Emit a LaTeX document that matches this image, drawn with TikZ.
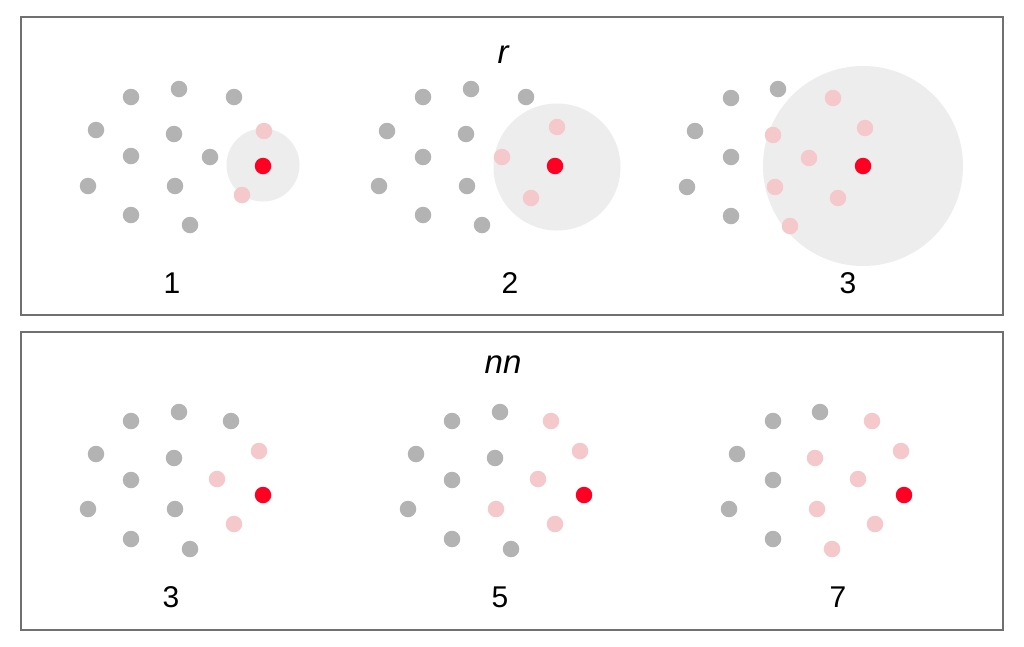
\documentclass[tikz,border=0pt]{standalone}
\usepackage{fontspec}
\setmainfont{Liberation Sans}
\definecolor{dotgray}{HTML}{B3B3B3}
\definecolor{dotpink}{HTML}{F5C8CB}
\definecolor{dotred}{HTML}{FF0022}
\definecolor{zonegray}{HTML}{EDEDED}
\definecolor{framegray}{HTML}{707070}
\begin{document}
\begin{tikzpicture}[x=1pt,y=-1pt,
  gdot/.style={circle,fill=dotgray,draw=none,inner sep=0pt,minimum size=16.5pt},
  pdot/.style={circle,fill=dotpink,draw=none,inner sep=0pt,minimum size=16.5pt},
  rdot/.style={circle,fill=dotred,draw=none,inner sep=0pt,minimum size=16.5pt},
  zone/.style={circle,fill=zonegray,draw=none,inner sep=0pt},
  panel/.style={draw=framegray,line width=1.5pt},
  title/.style={anchor=base,inner sep=0pt,font=\fontsize{33}{39}\selectfont\itshape},
  num/.style={anchor=base,inner sep=0pt,font=\fontsize{30}{36}\selectfont}]
\useasboundingbox (0,0) rectangle (1024,646);
\fill[white] (0,0) rectangle (1024,646);
% frames
\draw[panel] (21,17) rectangle (1003,315);
\draw[panel] (21,332) rectangle (1003,630);
% titles
\node[title] (tr) at (503,63) {r};
\node[title] (tnn) at (503,373) {nn};
% ---------- top panel ----------
\node[zone,minimum size=73pt] (z1) at (263,165) {};
\node[zone,minimum size=127pt] (z2) at (557,167) {};
\node[zone,minimum size=200pt] (z3) at (863,166) {};
% panel top 1
\foreach \x/\y [count=\i] in {131/97,179/89,234/97,96/130,174/134,131/156,210/157,88/186,175/186,131/215,190/225}
  \node[gdot] (a\i) at (\x,\y) {};
\node[pdot] (ap1) at (264,131) {};
\node[pdot] (ap2) at (242,195) {};
\node[rdot] (ar) at (263,166) {};
\node[num] (l1) at (172,293) {1};
% panel top 2
\foreach \x/\y [count=\i] in {423/97,471/89,526/97,387/131,466/134,423/157,379/186,467/186,423/215,482/225}
  \node[gdot] (b\i) at (\x,\y) {};
\node[pdot] (bp1) at (502,157) {};
\node[pdot] (bp2) at (557,127) {};
\node[pdot] (bp3) at (531,198) {};
\node[rdot] (br) at (555,166) {};
\node[num] (l2) at (510,293) {2};
% panel top 3
\foreach \x/\y [count=\i] in {731/98,778/89,695/131,731/157,687/187,731/216}
  \node[gdot] (c\i) at (\x,\y) {};
\foreach \x/\y [count=\i] in {833/98,773/135,809/158,775/187,790/226,865/128,838/198}
  \node[pdot] (cp\i) at (\x,\y) {};
\node[rdot] (cr) at (863,166) {};
\node[num] (l3) at (848,293) {3};
% ---------- bottom panel ----------
% panel bottom 1
\foreach \x/\y [count=\i] in {131/421,179/412,231/421,96/454,174/458,131/480,88/509,175/509,131/539,190/549}
  \node[gdot] (d\i) at (\x,\y) {};
\foreach \x/\y [count=\i] in {217/479,259/451,234/524}
  \node[pdot] (dp\i) at (\x,\y) {};
\node[rdot] (dr) at (263,495) {};
\node[num] (l4) at (171,607) {3};
% panel bottom 2
\foreach \x/\y [count=\i] in {452/421,500/412,416/454,495/458,452/480,408/509,452/539,511/549}
  \node[gdot] (e\i) at (\x,\y) {};
\foreach \x/\y [count=\i] in {551/421,538/479,496/509,580/451,555/524}
  \node[pdot] (ep\i) at (\x,\y) {};
\node[rdot] (er) at (584,495) {};
\node[num] (l5) at (500,607) {5};
% panel bottom 3
\foreach \x/\y [count=\i] in {773/421,820/412,737/454,773/480,729/509,773/539}
  \node[gdot] (f\i) at (\x,\y) {};
\foreach \x/\y [count=\i] in {872/421,815/458,858/479,817/509,832/549,901/451,875/524}
  \node[pdot] (fp\i) at (\x,\y) {};
\node[rdot] (fr) at (904,495) {};
\node[num] (l6) at (838,607) {7};
\end{tikzpicture}
\end{document}
